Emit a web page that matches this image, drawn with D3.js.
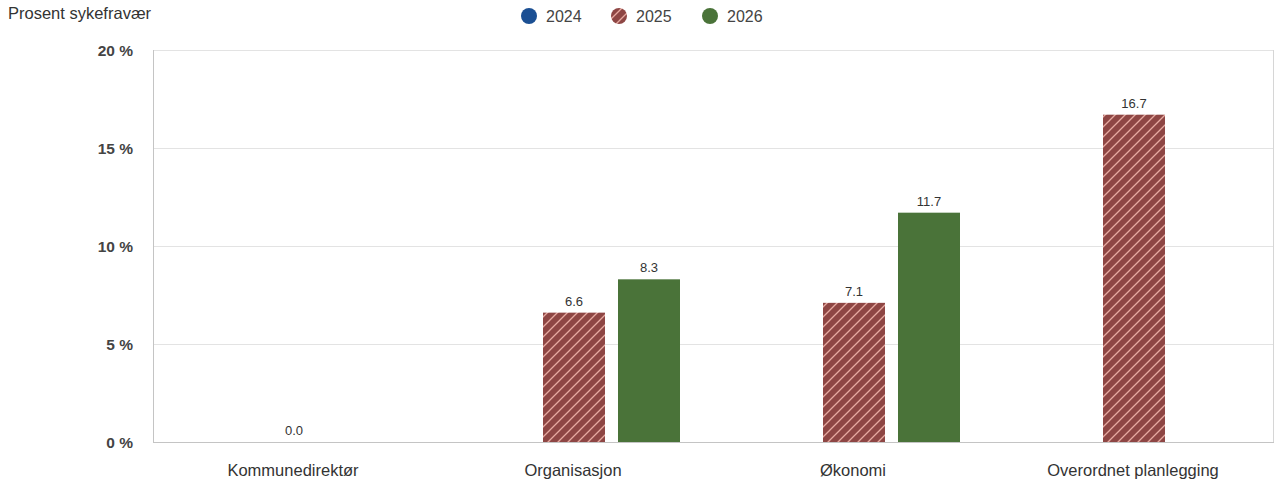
<!DOCTYPE html>
<html><head><meta charset="utf-8">
<script src="https://cdn.jsdelivr.net/npm/d3@7"></script>
<style>
body{margin:0;background:#fff;font-family:"Liberation Sans",Arial,sans-serif;}
</style></head>
<body><svg id="c" width="1284" height="483"></svg>
<script>
const categories = ["Kommunedirektør","Organisasjon","Økonomi","Overordnet planlegging"];
const seriesNames = ["2024","2025","2026"];
const values2024 = [null,null,null,null];
const values2025 = [0.0,6.6,7.1,16.7];
const values2026 = [null,8.3,11.7,null];
const yTicks = [0,5,10,15,20];
const yTitle = "Prosent sykefravær";

const seriesValues = [values2024, values2025, values2026];
const colors = ["#1b4f93","#8e4644","#4a7339"];

const svg = d3.select("#c");
const m = {l:153, r:1273, t:50, b:442};
const x = d3.scaleBand().domain(categories).range([m.l,m.r]).padding(0);
const pIn = 13/75;
const xs = d3.scaleBand().domain(seriesNames).range([0,225]).paddingInner(pIn).paddingOuter(pIn/2);
const y = d3.scaleLinear().domain([0,20]).range([m.b,m.t]);

const defs = svg.append("defs");
const pat = defs.append("pattern").attr("id","hatch").attr("patternUnits","userSpaceOnUse")
  .attr("width",10).attr("height",10);
pat.append("rect").attr("width",10).attr("height",10).attr("fill",colors[1]);
pat.append("path").attr("d","M-1,1 l2,-2 M0,10 l10,-10 M9,11 l2,-2").attr("stroke","#e7a9a0").attr("stroke-width",1.3);

// gridlines
svg.append("g").selectAll("line").data(yTicks).join("line")
  .attr("x1",m.l).attr("x2",m.r).attr("y1",d=>y(d)+0.5).attr("y2",d=>y(d)+0.5)
  .attr("stroke","#e3e3e3");
// border
svg.append("line").attr("x1",m.r+0.5).attr("x2",m.r+0.5).attr("y1",m.t).attr("y2",m.b).attr("stroke","#d6d6d6");
svg.append("line").attr("x1",m.l+0.5).attr("x2",m.l+0.5).attr("y1",m.t).attr("y2",m.b+0.5).attr("stroke","#c4c4c4");
svg.append("line").attr("x1",m.l).attr("x2",m.r+1).attr("y1",m.b+0.5).attr("y2",m.b+0.5).attr("stroke","#c4c4c4");

// y axis labels
svg.append("g").selectAll("text").data(yTicks).join("text")
  .attr("x",133).attr("y",d=>y(d)+6).attr("text-anchor","end")
  .attr("font-size",15.5).attr("font-weight","bold").attr("fill","#444")
  .text(d=>d+" %");

svg.append("text").attr("x",8).attr("y",19).attr("font-size",16.5).attr("fill","#333").text(yTitle);

// bars
const groupOffset = (x.bandwidth()-225)/2 + 1;
categories.forEach((c,i)=>{
  seriesValues.forEach((arr,s)=>{
    const v = arr[i];
    if(v===null||v===undefined) return;
    const bx = x(c)+groupOffset+xs(seriesNames[s]);
    const fill = s===1 ? "url(#hatch)" : colors[s];
    if(v>0) svg.append("rect").attr("x",bx).attr("y",y(v)).attr("width",xs.bandwidth())
      .attr("height",y(0)-y(v)).attr("fill",fill);
    svg.append("text").attr("x",bx+xs.bandwidth()/2).attr("y",y(v)-7)
      .attr("text-anchor","middle").attr("font-size",13).attr("fill","#333").text(v.toFixed(1));
  });
});

// x labels
svg.append("g").selectAll("text").data(categories).join("text")
  .attr("x",d=>x(d)+x.bandwidth()/2).attr("y",476).attr("text-anchor","middle")
  .attr("font-size",16.5).attr("fill","#333").text(d=>d);

// legend
const lx = [529,619,710];
seriesNames.forEach((n,s)=>{
  svg.append("circle").attr("cx",lx[s]).attr("cy",16).attr("r",8)
    .attr("fill", s===1 ? "url(#hatch)" : colors[s]);
  svg.append("text").attr("x",lx[s]+17).attr("y",22).attr("font-size",16).attr("fill","#444").text(n);
});
</script></body></html>
